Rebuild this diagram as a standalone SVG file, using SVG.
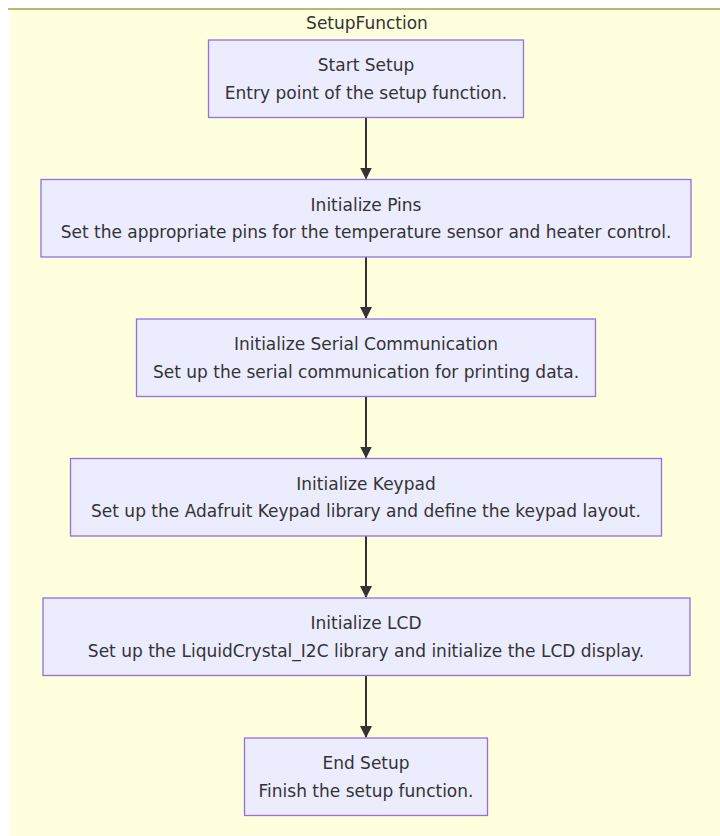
<svg xmlns="http://www.w3.org/2000/svg" width="720" height="836" viewBox="0 0 720 836">
<defs>
<style>
.node rect{fill:#ECECFF;stroke:#9370DB;stroke-width:1.3;}
.node text,.title{font-family:"DejaVu Sans",sans-serif;font-size:17px;fill:#333333;text-anchor:middle;}
.edge{stroke:#333333;stroke-width:2;fill:none;}
</style>
<marker id="arrow" viewBox="0 0 12 12" refX="11" refY="6" markerWidth="12" markerHeight="12" markerUnits="userSpaceOnUse" orient="auto">
<path d="M0,0 L12,6 L0,12 z" fill="#333333"/>
</marker>
</defs>
<rect width="720" height="836" fill="#ffffff"/>
<g id="cluster-SetupFunction">
<rect x="10" y="9" width="712" height="830" fill="#ffffde"/>
<line x1="8" y1="9" x2="720" y2="9" stroke="#b7b874" stroke-width="2"/>
<text class="title" x="367" y="29">SetupFunction</text>
</g>
<g id="connectors">
<path class="edge" d="M366,117.5 L366,178.5" marker-end="url(#arrow)"/>
<path class="edge" d="M366,257 L366,318" marker-end="url(#arrow)"/>
<path class="edge" d="M366,396.5 L366,457.5" marker-end="url(#arrow)"/>
<path class="edge" d="M366,536 L366,597" marker-end="url(#arrow)"/>
<path class="edge" d="M366,675.5 L366,737" marker-end="url(#arrow)"/>
</g>
<g id="node-start" class="node">
<rect x="208.5" y="40" width="315" height="77.5"/>
<text x="366" y="71">Start Setup</text>
<text x="366" y="98.5">Entry point of the setup function.</text>
</g>
<g id="node-pins" class="node">
<rect x="41" y="179.5" width="650" height="77.5"/>
<text x="366" y="210.5">Initialize Pins</text>
<text x="366" y="238">Set the appropriate pins for the temperature sensor and heater control.</text>
</g>
<g id="node-serial" class="node">
<rect x="136.5" y="319" width="459" height="77.5"/>
<text x="366" y="350">Initialize Serial Communication</text>
<text x="366" y="377.5">Set up the serial communication for printing data.</text>
</g>
<g id="node-keypad" class="node">
<rect x="70.5" y="458.5" width="591" height="77.5"/>
<text x="366" y="489.5">Initialize Keypad</text>
<text x="366" y="517">Set up the Adafruit Keypad library and define the keypad layout.</text>
</g>
<g id="node-lcd" class="node">
<rect x="43" y="598" width="647" height="77.5"/>
<text x="366" y="629">Initialize LCD</text>
<text x="366" y="656.5">Set up the LiquidCrystal_I2C library and initialize the LCD display.</text>
</g>
<g id="node-end" class="node">
<rect x="244.5" y="738" width="243" height="77.5"/>
<text x="366" y="769">End Setup</text>
<text x="366" y="796.5">Finish the setup function.</text>
</g>
</svg>
